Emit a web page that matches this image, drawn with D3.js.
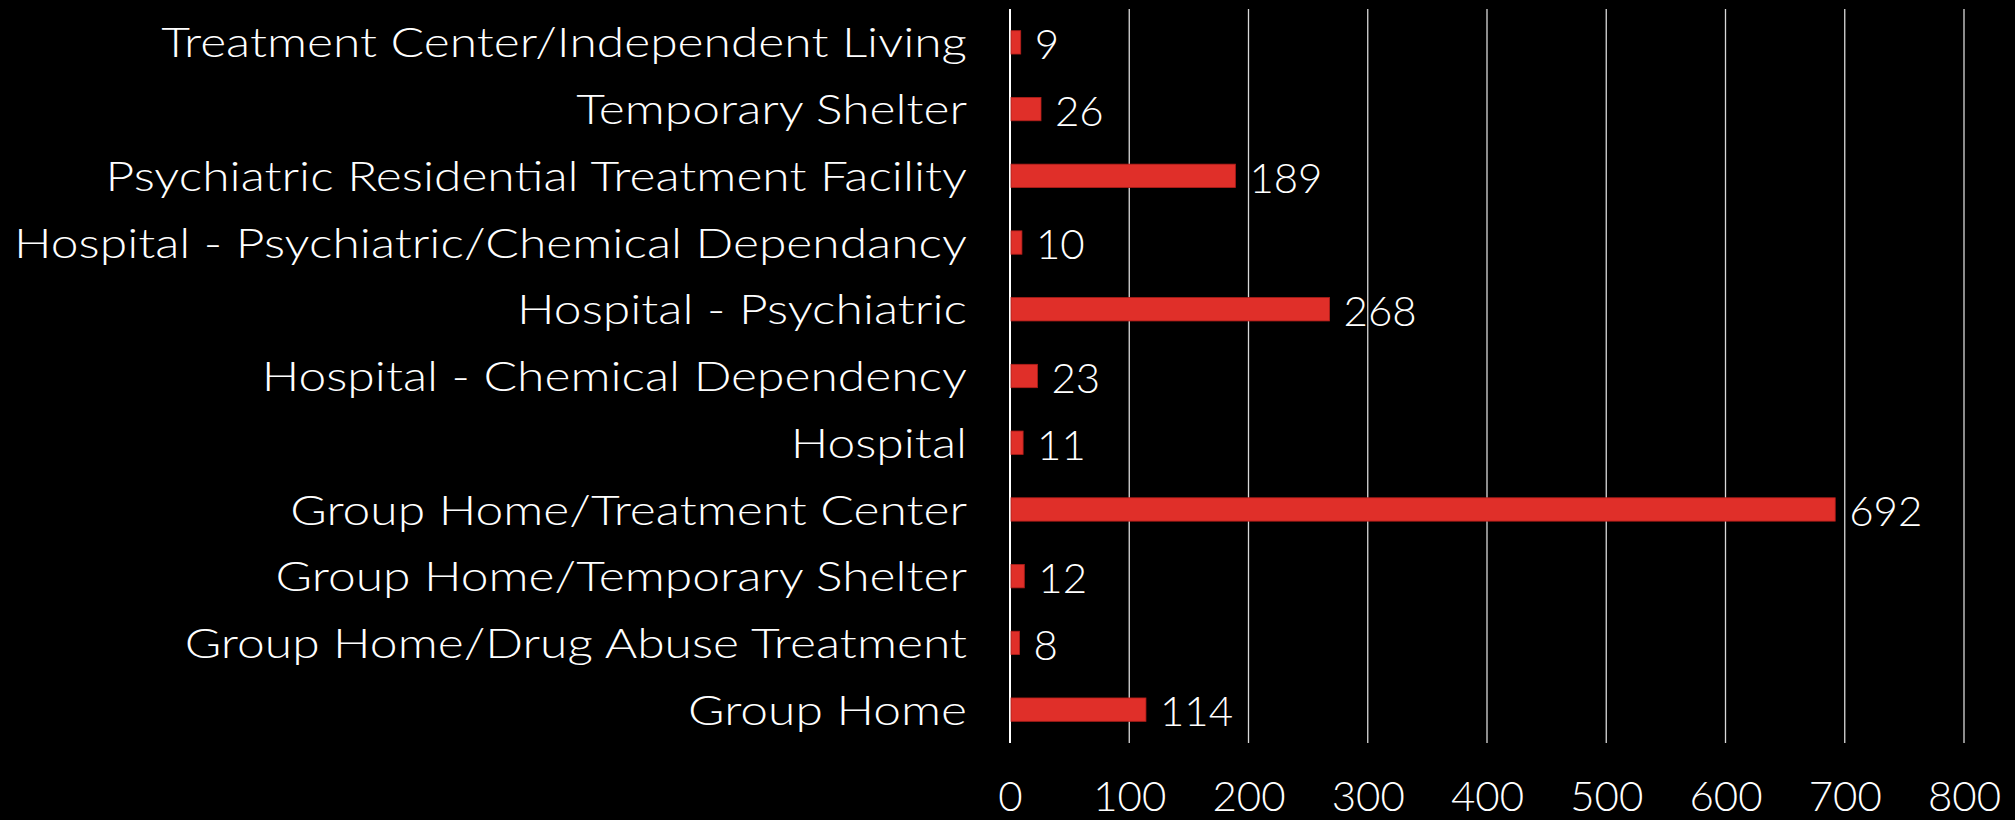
<!DOCTYPE html>
<html>
<head>
<meta charset="utf-8">
<script src="https://cdn.jsdelivr.net/npm/d3@7"></script>
<style>
  html, body { margin: 0; padding: 0; background: #000; }
  svg { display: block; }
  text { font-family: "Century Gothic", Lato, "Open Sans", sans-serif; font-weight: 300; fill: #fff; }
</style>
</head>
<body>
<div id="chart"></div>
<script>
// categories top to bottom
const categories = [
    "Treatment Center/Independent Living",
    "Temporary Shelter",
    "Psychiatric Residential Treatment Facility",
    "Hospital - Psychiatric/Chemical Dependancy",
    "Hospital - Psychiatric",
    "Hospital - Chemical Dependency",
    "Hospital",
    "Group Home/Treatment Center",
    "Group Home/Temporary Shelter",
    "Group Home/Drug Abuse Treatment",
    "Group Home",
];
const counts = [9, 26, 189, 10, 268, 23, 11, 692, 12, 8, 114];
const xTicks = [0, 100, 200, 300, 400, 500, 600, 700, 800];

const data = categories.map((c, i) => ({ name: c, value: counts[i] }));

const W = 2015, H = 820;
const margin = { top: 9, right: 51, bottom: 77, left: 1010 };
const width = W - margin.left - margin.right;
const height = H - margin.top - margin.bottom;

const svg = d3.select("#chart").append("svg")
    .attr("width", W)
    .attr("height", H);

const g = svg.append("g")
    .attr("transform", `translate(${margin.left}, ${margin.top})`);

const x = d3.scaleLinear().domain([0, 800]).range([0, width]);
const y = d3.scaleBand()
    .domain(categories)
    .range([0, height])
    .paddingInner(0.65)
    .paddingOuter(0.325);

// vertical grid lines
g.append("g")
    .selectAll("line")
    .data(xTicks)
    .join("line")
    .attr("x1", (d) => x(d))
    .attr("x2", (d) => x(d))
    .attr("y1", 0)
    .attr("y2", height)
    .attr("stroke", (d) => d === 0 ? "#ffffff" : "#d9d9d9")
    .attr("stroke-width", (d) => d === 0 ? 2 : 1.3);

// x axis labels
const xAxis = g.append("g")
    .attr("transform", `translate(0, ${height})`)
    .call(d3.axisBottom(x).tickValues(xTicks).tickSize(0).tickPadding(38));
xAxis.select(".domain").remove();
xAxis.selectAll("text")
    .attr("fill", "#fff")
    .style("font-size", "42px");

// category labels, widened a bit to match the wide original face
const yAxis = g.append("g")
    .call(d3.axisLeft(y).tickSize(0).tickPadding(43));
yAxis.select(".domain").remove();
yAxis.selectAll("text")
    .attr("fill", "#fff")
    .attr("dy", "0.36em")
    .style("font-size", "42px")
    .each(function () {
        const len = this.getComputedTextLength();
        d3.select(this)
            .attr("textLength", len * 1.185)
            .attr("lengthAdjust", "spacingAndGlyphs");
    });

// bars
g.append("g")
    .selectAll("rect")
    .data(data)
    .join("rect")
    .attr("x", x(0) + 1)
    .attr("y", (d) => y(d.name))
    .attr("width", (d) => x(d.value) - x(0) - 1)
    .attr("height", y.bandwidth())
    .attr("fill", "#e02f29")
    .attr("stroke", "#b01e1a")
    .attr("stroke-width", 0.8);

// value labels
g.append("g")
    .selectAll("text")
    .data(data)
    .join("text")
    .attr("x", (d) => x(d.value) + 14)
    .attr("y", (d) => y(d.name) + y.bandwidth() / 2)
    .attr("dy", "0.4em")
    .style("font-size", "42px")
    .text((d) => d.value);
</script>
</body>
</html>
